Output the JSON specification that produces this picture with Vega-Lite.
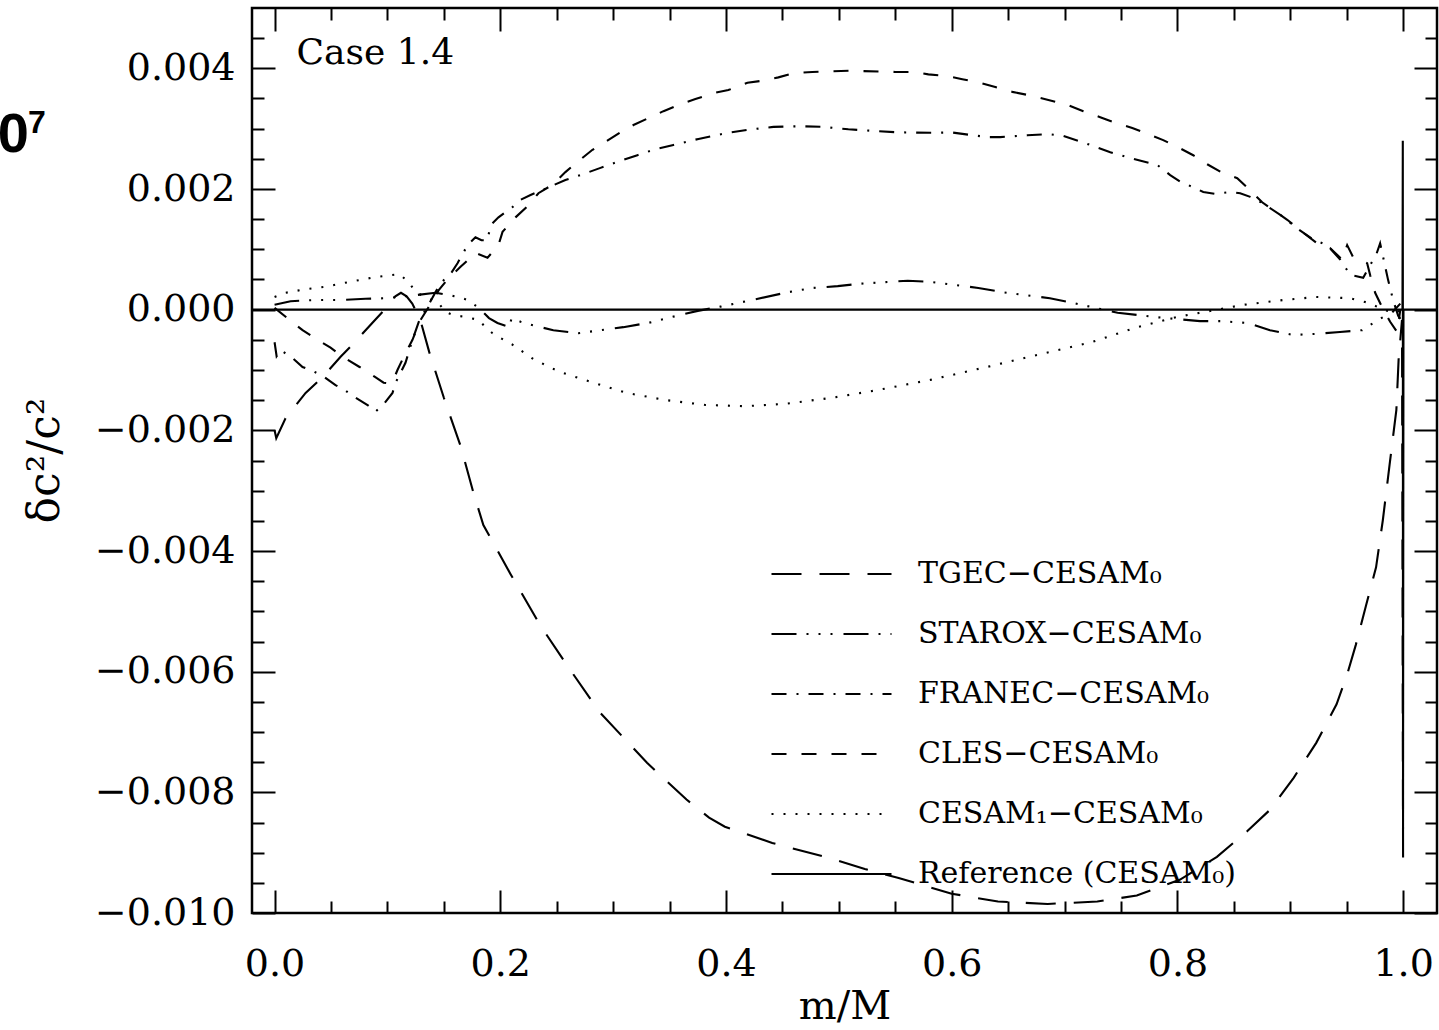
{
"$schema": "https://vega.github.io/schema/vega-lite/v6.json",
"width": 1185, "height": 905,
"autosize": {"type": "none"},
"padding": {"left": 252, "top": 8, "right": 2, "bottom": 117},
"background": "white",
"config": {
  "view": {"stroke": "black", "strokeWidth": 2.5},
  "font": "DejaVu Serif",
  "axis": {"grid": false, "domain": false, "tickColor": "black", "tickWidth": 2, "labelColor": "black", "titleColor": "black", "labelFont": "DejaVu Serif", "titleFont": "DejaVu Serif", "labelFontWeight": "normal", "titleFontWeight": "normal", "labelOverlap": false, "labelFlush": false}
},
"data": {"values": [
{"series":"TGEC−CESAM₀","m":0.0,"v":-0.00200},
{"series":"TGEC−CESAM₀","m":0.0015,"v":-0.00213},
{"series":"TGEC−CESAM₀","m":0.0097,"v":-0.00180},
{"series":"TGEC−CESAM₀","m":0.0275,"v":-0.00138},
{"series":"TGEC−CESAM₀","m":0.0425,"v":-0.00112},
{"series":"TGEC−CESAM₀","m":0.0585,"v":-0.00078},
{"series":"TGEC−CESAM₀","m":0.0690,"v":-0.00058},
{"series":"TGEC−CESAM₀","m":0.0890,"v":-0.00017},
{"series":"TGEC−CESAM₀","m":0.1000,"v":0.00005},
{"series":"TGEC−CESAM₀","m":0.1070,"v":0.00022},
{"series":"TGEC−CESAM₀","m":0.1120,"v":0.00028},
{"series":"TGEC−CESAM₀","m":0.1170,"v":0.00022},
{"series":"TGEC−CESAM₀","m":0.1220,"v":0.00010},
{"series":"TGEC−CESAM₀","m":0.1290,"v":-0.00016},
{"series":"TGEC−CESAM₀","m":0.1370,"v":-0.00070},
{"series":"TGEC−CESAM₀","m":0.1500,"v":-0.00146},
{"series":"TGEC−CESAM₀","m":0.1650,"v":-0.00227},
{"series":"TGEC−CESAM₀","m":0.1760,"v":-0.00302},
{"series":"TGEC−CESAM₀","m":0.1850,"v":-0.00357},
{"series":"TGEC−CESAM₀","m":0.2090,"v":-0.00438},
{"series":"TGEC−CESAM₀","m":0.2350,"v":-0.00522},
{"series":"TGEC−CESAM₀","m":0.2590,"v":-0.00589},
{"series":"TGEC−CESAM₀","m":0.2880,"v":-0.00667},
{"series":"TGEC−CESAM₀","m":0.3300,"v":-0.00751},
{"series":"TGEC−CESAM₀","m":0.3650,"v":-0.00812},
{"series":"TGEC−CESAM₀","m":0.3850,"v":-0.00842},
{"series":"TGEC−CESAM₀","m":0.3990,"v":-0.00857},
{"series":"TGEC−CESAM₀","m":0.4410,"v":-0.00884},
{"series":"TGEC−CESAM₀","m":0.4880,"v":-0.00907},
{"series":"TGEC−CESAM₀","m":0.5230,"v":-0.00927},
{"series":"TGEC−CESAM₀","m":0.5530,"v":-0.00942},
{"series":"TGEC−CESAM₀","m":0.6000,"v":-0.00968},
{"series":"TGEC−CESAM₀","m":0.6410,"v":-0.00981},
{"series":"TGEC−CESAM₀","m":0.6850,"v":-0.00985},
{"series":"TGEC−CESAM₀","m":0.7290,"v":-0.00981},
{"series":"TGEC−CESAM₀","m":0.7640,"v":-0.00971},
{"series":"TGEC−CESAM₀","m":0.8020,"v":-0.00945},
{"series":"TGEC−CESAM₀","m":0.8350,"v":-0.00907},
{"series":"TGEC−CESAM₀","m":0.8620,"v":-0.00864},
{"series":"TGEC−CESAM₀","m":0.8820,"v":-0.00829},
{"series":"TGEC−CESAM₀","m":0.9030,"v":-0.00776},
{"series":"TGEC−CESAM₀","m":0.9230,"v":-0.00718},
{"series":"TGEC−CESAM₀","m":0.9410,"v":-0.00654},
{"series":"TGEC−CESAM₀","m":0.9500,"v":-0.00607},
{"series":"TGEC−CESAM₀","m":0.9580,"v":-0.00556},
{"series":"TGEC−CESAM₀","m":0.9670,"v":-0.00491},
{"series":"TGEC−CESAM₀","m":0.9760,"v":-0.00427},
{"series":"TGEC−CESAM₀","m":0.9820,"v":-0.00349},
{"series":"TGEC−CESAM₀","m":0.9880,"v":-0.00257},
{"series":"TGEC−CESAM₀","m":0.9940,"v":-0.00166},
{"series":"TGEC−CESAM₀","m":0.9960,"v":-0.00082},
{"series":"TGEC−CESAM₀","m":0.9990,"v":-0.00017},
{"series":"TGEC−CESAM₀","m":0.99995,"v":-0.00912},

{"series":"STAROX−CESAM₀","m":0.0,"v":0.00008},
{"series":"STAROX−CESAM₀","m":0.0142,"v":0.00014},
{"series":"STAROX−CESAM₀","m":0.0363,"v":0.00016},
{"series":"STAROX−CESAM₀","m":0.0585,"v":0.00016},
{"series":"STAROX−CESAM₀","m":0.0806,"v":0.00018},
{"series":"STAROX−CESAM₀","m":0.0983,"v":0.00019},
{"series":"STAROX−CESAM₀","m":0.1200,"v":0.00023},
{"series":"STAROX−CESAM₀","m":0.1426,"v":0.00028},
{"series":"STAROX−CESAM₀","m":0.1630,"v":0.00021},
{"series":"STAROX−CESAM₀","m":0.1710,"v":0.00016},
{"series":"STAROX−CESAM₀","m":0.1810,"v":0.00003},
{"series":"STAROX−CESAM₀","m":0.1900,"v":-0.00014},
{"series":"STAROX−CESAM₀","m":0.1975,"v":-0.00022},
{"series":"STAROX−CESAM₀","m":0.2080,"v":-0.00029},
{"series":"STAROX−CESAM₀","m":0.2100,"v":-0.00014},
{"series":"STAROX−CESAM₀","m":0.2180,"v":-0.00020},
{"series":"STAROX−CESAM₀","m":0.2268,"v":-0.00025},
{"series":"STAROX−CESAM₀","m":0.2380,"v":-0.00030},
{"series":"STAROX−CESAM₀","m":0.2470,"v":-0.00034},
{"series":"STAROX−CESAM₀","m":0.2690,"v":-0.00039},
{"series":"STAROX−CESAM₀","m":0.2890,"v":-0.00034},
{"series":"STAROX−CESAM₀","m":0.3090,"v":-0.00029},
{"series":"STAROX−CESAM₀","m":0.3310,"v":-0.00022},
{"series":"STAROX−CESAM₀","m":0.3525,"v":-0.00012},
{"series":"STAROX−CESAM₀","m":0.3750,"v":-0.00002},
{"series":"STAROX−CESAM₀","m":0.3950,"v":0.00005},
{"series":"STAROX−CESAM₀","m":0.4230,"v":0.00016},
{"series":"STAROX−CESAM₀","m":0.4550,"v":0.00029},
{"series":"STAROX−CESAM₀","m":0.4770,"v":0.00036},
{"series":"STAROX−CESAM₀","m":0.4990,"v":0.00039},
{"series":"STAROX−CESAM₀","m":0.5190,"v":0.00043},
{"series":"STAROX−CESAM₀","m":0.5610,"v":0.00048},
{"series":"STAROX−CESAM₀","m":0.5810,"v":0.00046},
{"series":"STAROX−CESAM₀","m":0.6236,"v":0.00036},
{"series":"STAROX−CESAM₀","m":0.6450,"v":0.00029},
{"series":"STAROX−CESAM₀","m":0.6870,"v":0.00019},
{"series":"STAROX−CESAM₀","m":0.7080,"v":0.00011},
{"series":"STAROX−CESAM₀","m":0.7320,"v":0.00001},
{"series":"STAROX−CESAM₀","m":0.7470,"v":-0.00005},
{"series":"STAROX−CESAM₀","m":0.7790,"v":-0.00012},
{"series":"STAROX−CESAM₀","m":0.8200,"v":-0.00019},
{"series":"STAROX−CESAM₀","m":0.8380,"v":-0.00019},
{"series":"STAROX−CESAM₀","m":0.8620,"v":-0.00022},
{"series":"STAROX−CESAM₀","m":0.8820,"v":-0.00034},
{"series":"STAROX−CESAM₀","m":0.9026,"v":-0.00042},
{"series":"STAROX−CESAM₀","m":0.9240,"v":-0.00040},
{"series":"STAROX−CESAM₀","m":0.9440,"v":-0.00037},
{"series":"STAROX−CESAM₀","m":0.9637,"v":-0.00034},
{"series":"STAROX−CESAM₀","m":0.9710,"v":-0.00025},
{"series":"STAROX−CESAM₀","m":0.9796,"v":-0.00015},
{"series":"STAROX−CESAM₀","m":0.9900,"v":-0.00005},
{"series":"STAROX−CESAM₀","m":0.9975,"v":0.00010},

{"series":"FRANEC−CESAM₀","m":0.0,"v":-0.00054},
{"series":"FRANEC−CESAM₀","m":0.0018,"v":-0.00077},
{"series":"FRANEC−CESAM₀","m":0.0053,"v":-0.00067},
{"series":"FRANEC−CESAM₀","m":0.0159,"v":-0.00080},
{"series":"FRANEC−CESAM₀","m":0.0248,"v":-0.00095},
{"series":"FRANEC−CESAM₀","m":0.0354,"v":-0.00103},
{"series":"FRANEC−CESAM₀","m":0.0443,"v":-0.00112},
{"series":"FRANEC−CESAM₀","m":0.0540,"v":-0.00125},
{"series":"FRANEC−CESAM₀","m":0.0620,"v":-0.00133},
{"series":"FRANEC−CESAM₀","m":0.0709,"v":-0.00145},
{"series":"FRANEC−CESAM₀","m":0.0824,"v":-0.00158},
{"series":"FRANEC−CESAM₀","m":0.0895,"v":-0.00169},
{"series":"FRANEC−CESAM₀","m":0.0974,"v":-0.00155},
{"series":"FRANEC−CESAM₀","m":0.1045,"v":-0.00138},
{"series":"FRANEC−CESAM₀","m":0.1072,"v":-0.00121},
{"series":"FRANEC−CESAM₀","m":0.1160,"v":-0.00088},
{"series":"FRANEC−CESAM₀","m":0.1222,"v":-0.00050},
{"series":"FRANEC−CESAM₀","m":0.1284,"v":-0.00017},
{"series":"FRANEC−CESAM₀","m":0.1364,"v":0.00008},
{"series":"FRANEC−CESAM₀","m":0.1470,"v":0.00044},
{"series":"FRANEC−CESAM₀","m":0.1559,"v":0.00059},
{"series":"FRANEC−CESAM₀","m":0.1621,"v":0.00077},
{"series":"FRANEC−CESAM₀","m":0.1710,"v":0.00107},
{"series":"FRANEC−CESAM₀","m":0.1780,"v":0.00120},
{"series":"FRANEC−CESAM₀","m":0.1833,"v":0.00115},
{"series":"FRANEC−CESAM₀","m":0.1887,"v":0.00115},
{"series":"FRANEC−CESAM₀","m":0.1913,"v":0.00140},
{"series":"FRANEC−CESAM₀","m":0.1984,"v":0.00153},
{"series":"FRANEC−CESAM₀","m":0.2108,"v":0.00170},
{"series":"FRANEC−CESAM₀","m":0.2179,"v":0.00182},
{"series":"FRANEC−CESAM₀","m":0.2268,"v":0.00190},
{"series":"FRANEC−CESAM₀","m":0.2418,"v":0.00202},
{"series":"FRANEC−CESAM₀","m":0.2577,"v":0.00215},
{"series":"FRANEC−CESAM₀","m":0.2710,"v":0.00223},
{"series":"FRANEC−CESAM₀","m":0.2888,"v":0.00235},
{"series":"FRANEC−CESAM₀","m":0.3038,"v":0.00245},
{"series":"FRANEC−CESAM₀","m":0.3215,"v":0.00256},
{"series":"FRANEC−CESAM₀","m":0.3357,"v":0.00265},
{"series":"FRANEC−CESAM₀","m":0.3534,"v":0.00273},
{"series":"FRANEC−CESAM₀","m":0.3756,"v":0.00283},
{"series":"FRANEC−CESAM₀","m":0.4012,"v":0.00293},
{"series":"FRANEC−CESAM₀","m":0.4190,"v":0.00298},
{"series":"FRANEC−CESAM₀","m":0.4420,"v":0.00303},
{"series":"FRANEC−CESAM₀","m":0.4659,"v":0.00304},
{"series":"FRANEC−CESAM₀","m":0.4854,"v":0.00303},
{"series":"FRANEC−CESAM₀","m":0.5084,"v":0.00299},
{"series":"FRANEC−CESAM₀","m":0.5323,"v":0.00296},
{"series":"FRANEC−CESAM₀","m":0.5518,"v":0.00294},
{"series":"FRANEC−CESAM₀","m":0.5855,"v":0.00293},
{"series":"FRANEC−CESAM₀","m":0.5988,"v":0.00294},
{"series":"FRANEC−CESAM₀","m":0.6191,"v":0.00289},
{"series":"FRANEC−CESAM₀","m":0.6324,"v":0.00286},
{"series":"FRANEC−CESAM₀","m":0.6430,"v":0.00286},
{"series":"FRANEC−CESAM₀","m":0.6670,"v":0.00289},
{"series":"FRANEC−CESAM₀","m":0.6856,"v":0.00291},
{"series":"FRANEC−CESAM₀","m":0.6988,"v":0.00288},
{"series":"FRANEC−CESAM₀","m":0.7183,"v":0.00276},
{"series":"FRANEC−CESAM₀","m":0.7405,"v":0.00261},
{"series":"FRANEC−CESAM₀","m":0.7609,"v":0.00250},
{"series":"FRANEC−CESAM₀","m":0.7821,"v":0.00240},
{"series":"FRANEC−CESAM₀","m":0.7936,"v":0.00223},
{"series":"FRANEC−CESAM₀","m":0.8025,"v":0.00212},
{"series":"FRANEC−CESAM₀","m":0.8140,"v":0.00203},
{"series":"FRANEC−CESAM₀","m":0.8229,"v":0.00195},
{"series":"FRANEC−CESAM₀","m":0.8335,"v":0.00192},
{"series":"FRANEC−CESAM₀","m":0.8468,"v":0.00195},
{"series":"FRANEC−CESAM₀","m":0.8556,"v":0.00193},
{"series":"FRANEC−CESAM₀","m":0.8645,"v":0.00187},
{"series":"FRANEC−CESAM₀","m":0.8751,"v":0.00177},
{"series":"FRANEC−CESAM₀","m":0.8937,"v":0.00154},
{"series":"FRANEC−CESAM₀","m":0.9043,"v":0.00137},
{"series":"FRANEC−CESAM₀","m":0.9203,"v":0.00116},
{"series":"FRANEC−CESAM₀","m":0.9327,"v":0.00107},
{"series":"FRANEC−CESAM₀","m":0.9442,"v":0.00083},
{"series":"FRANEC−CESAM₀","m":0.9530,"v":0.00058},
{"series":"FRANEC−CESAM₀","m":0.9646,"v":0.00053},
{"series":"FRANEC−CESAM₀","m":0.9708,"v":0.00074},
{"series":"FRANEC−CESAM₀","m":0.9761,"v":0.00091},
{"series":"FRANEC−CESAM₀","m":0.9796,"v":0.00110},
{"series":"FRANEC−CESAM₀","m":0.9823,"v":0.00087},
{"series":"FRANEC−CESAM₀","m":0.9867,"v":0.00049},
{"series":"FRANEC−CESAM₀","m":0.9911,"v":0.00016},
{"series":"FRANEC−CESAM₀","m":0.9956,"v":-0.00010},
{"series":"FRANEC−CESAM₀","m":0.9982,"v":-0.00017},

{"series":"CLES−CESAM₀","m":0.0,"v":0.00003},
{"series":"CLES−CESAM₀","m":0.0133,"v":-0.00017},
{"series":"CLES−CESAM₀","m":0.0248,"v":-0.00034},
{"series":"CLES−CESAM₀","m":0.0381,"v":-0.00050},
{"series":"CLES−CESAM₀","m":0.0496,"v":-0.00063},
{"series":"CLES−CESAM₀","m":0.0602,"v":-0.00078},
{"series":"CLES−CESAM₀","m":0.0753,"v":-0.00095},
{"series":"CLES−CESAM₀","m":0.0886,"v":-0.00111},
{"series":"CLES−CESAM₀","m":0.0966,"v":-0.00121},
{"series":"CLES−CESAM₀","m":0.1010,"v":-0.00122},
{"series":"CLES−CESAM₀","m":0.1045,"v":-0.00120},
{"series":"CLES−CESAM₀","m":0.1089,"v":-0.00100},
{"series":"CLES−CESAM₀","m":0.1160,"v":-0.00072},
{"series":"CLES−CESAM₀","m":0.1222,"v":-0.00050},
{"series":"CLES−CESAM₀","m":0.1284,"v":-0.00020},
{"series":"CLES−CESAM₀","m":0.1364,"v":0.00004},
{"series":"CLES−CESAM₀","m":0.1453,"v":0.00032},
{"series":"CLES−CESAM₀","m":0.1541,"v":0.00052},
{"series":"CLES−CESAM₀","m":0.1648,"v":0.00071},
{"series":"CLES−CESAM₀","m":0.1780,"v":0.00094},
{"series":"CLES−CESAM₀","m":0.1887,"v":0.00086},
{"series":"CLES−CESAM₀","m":0.1984,"v":0.00107},
{"series":"CLES−CESAM₀","m":0.2020,"v":0.00129},
{"series":"CLES−CESAM₀","m":0.2135,"v":0.00153},
{"series":"CLES−CESAM₀","m":0.2250,"v":0.00173},
{"series":"CLES−CESAM₀","m":0.2338,"v":0.00193},
{"series":"CLES−CESAM₀","m":0.2462,"v":0.00207},
{"series":"CLES−CESAM₀","m":0.2577,"v":0.00228},
{"series":"CLES−CESAM₀","m":0.2684,"v":0.00245},
{"series":"CLES−CESAM₀","m":0.2817,"v":0.00265},
{"series":"CLES−CESAM₀","m":0.2932,"v":0.00278},
{"series":"CLES−CESAM₀","m":0.3065,"v":0.00294},
{"series":"CLES−CESAM₀","m":0.3180,"v":0.00306},
{"series":"CLES−CESAM₀","m":0.3330,"v":0.00319},
{"series":"CLES−CESAM₀","m":0.3446,"v":0.00329},
{"series":"CLES−CESAM₀","m":0.3614,"v":0.00342},
{"series":"CLES−CESAM₀","m":0.3729,"v":0.00349},
{"series":"CLES−CESAM₀","m":0.3888,"v":0.00359},
{"series":"CLES−CESAM₀","m":0.4021,"v":0.00364},
{"series":"CLES−CESAM₀","m":0.4190,"v":0.00376},
{"series":"CLES−CESAM₀","m":0.4305,"v":0.00379},
{"series":"CLES−CESAM₀","m":0.4464,"v":0.00385},
{"series":"CLES−CESAM₀","m":0.4597,"v":0.00392},
{"series":"CLES−CESAM₀","m":0.4765,"v":0.00394},
{"series":"CLES−CESAM₀","m":0.5102,"v":0.00396},
{"series":"CLES−CESAM₀","m":0.5500,"v":0.00394},
{"series":"CLES−CESAM₀","m":0.5660,"v":0.00394},
{"series":"CLES−CESAM₀","m":0.5793,"v":0.00390},
{"series":"CLES−CESAM₀","m":0.5961,"v":0.00387},
{"series":"CLES−CESAM₀","m":0.6094,"v":0.00382},
{"series":"CLES−CESAM₀","m":0.6253,"v":0.00376},
{"series":"CLES−CESAM₀","m":0.6386,"v":0.00369},
{"series":"CLES−CESAM₀","m":0.6537,"v":0.00361},
{"series":"CLES−CESAM₀","m":0.6670,"v":0.00356},
{"series":"CLES−CESAM₀","m":0.6891,"v":0.00346},
{"series":"CLES−CESAM₀","m":0.7033,"v":0.00339},
{"series":"CLES−CESAM₀","m":0.7166,"v":0.00329},
{"series":"CLES−CESAM₀","m":0.7316,"v":0.00319},
{"series":"CLES−CESAM₀","m":0.7431,"v":0.00311},
{"series":"CLES−CESAM₀","m":0.7600,"v":0.00301},
{"series":"CLES−CESAM₀","m":0.7715,"v":0.00293},
{"series":"CLES−CESAM₀","m":0.7874,"v":0.00281},
{"series":"CLES−CESAM₀","m":0.7998,"v":0.00270},
{"series":"CLES−CESAM₀","m":0.8140,"v":0.00256},
{"series":"CLES−CESAM₀","m":0.8264,"v":0.00241},
{"series":"CLES−CESAM₀","m":0.8397,"v":0.00227},
{"series":"CLES−CESAM₀","m":0.8530,"v":0.00218},
{"series":"CLES−CESAM₀","m":0.8645,"v":0.00198},
{"series":"CLES−CESAM₀","m":0.8751,"v":0.00178},
{"series":"CLES−CESAM₀","m":0.8849,"v":0.00165},
{"series":"CLES−CESAM₀","m":0.8973,"v":0.00149},
{"series":"CLES−CESAM₀","m":0.9105,"v":0.00129},
{"series":"CLES−CESAM₀","m":0.9238,"v":0.00110},
{"series":"CLES−CESAM₀","m":0.9353,"v":0.00102},
{"series":"CLES−CESAM₀","m":0.9460,"v":0.00083},
{"series":"CLES−CESAM₀","m":0.9504,"v":0.00107},
{"series":"CLES−CESAM₀","m":0.9557,"v":0.00087},
{"series":"CLES−CESAM₀","m":0.9681,"v":0.00077},
{"series":"CLES−CESAM₀","m":0.9708,"v":0.00057},
{"series":"CLES−CESAM₀","m":0.9752,"v":0.00028},
{"series":"CLES−CESAM₀","m":0.9814,"v":0.00004},
{"series":"CLES−CESAM₀","m":0.9885,"v":-0.00020},
{"series":"CLES−CESAM₀","m":0.9947,"v":-0.00037},
{"series":"CLES−CESAM₀","m":0.9975,"v":0.00000},

{"series":"CESAM₁−CESAM₀","m":0.0,"v":0.00021},
{"series":"CESAM₁−CESAM₀","m":0.0097,"v":0.00028},
{"series":"CESAM₁−CESAM₀","m":0.0275,"v":0.00034},
{"series":"CESAM₁−CESAM₀","m":0.0452,"v":0.00038},
{"series":"CESAM₁−CESAM₀","m":0.0664,"v":0.00046},
{"series":"CESAM₁−CESAM₀","m":0.0895,"v":0.00054},
{"series":"CESAM₁−CESAM₀","m":0.1107,"v":0.00059},
{"series":"CESAM₁−CESAM₀","m":0.1196,"v":0.00044},
{"series":"CESAM₁−CESAM₀","m":0.1249,"v":0.00029},
{"series":"CESAM₁−CESAM₀","m":0.1337,"v":0.00021},
{"series":"CESAM₁−CESAM₀","m":0.1453,"v":0.00011},
{"series":"CESAM₁−CESAM₀","m":0.1515,"v":-0.00004},
{"series":"CESAM₁−CESAM₀","m":0.1585,"v":-0.00009},
{"series":"CESAM₁−CESAM₀","m":0.1692,"v":-0.00012},
{"series":"CESAM₁−CESAM₀","m":0.1807,"v":-0.00017},
{"series":"CESAM₁−CESAM₀","m":0.1869,"v":-0.00029},
{"series":"CESAM₁−CESAM₀","m":0.1931,"v":-0.00039},
{"series":"CESAM₁−CESAM₀","m":0.2002,"v":-0.00047},
{"series":"CESAM₁−CESAM₀","m":0.2108,"v":-0.00058},
{"series":"CESAM₁−CESAM₀","m":0.2294,"v":-0.00082},
{"series":"CESAM₁−CESAM₀","m":0.2524,"v":-0.00103},
{"series":"CESAM₁−CESAM₀","m":0.2826,"v":-0.00121},
{"series":"CESAM₁−CESAM₀","m":0.3118,"v":-0.00138},
{"series":"CESAM₁−CESAM₀","m":0.3472,"v":-0.00150},
{"series":"CESAM₁−CESAM₀","m":0.3818,"v":-0.00158},
{"series":"CESAM₁−CESAM₀","m":0.4172,"v":-0.00160},
{"series":"CESAM₁−CESAM₀","m":0.4526,"v":-0.00156},
{"series":"CESAM₁−CESAM₀","m":0.4942,"v":-0.00146},
{"series":"CESAM₁−CESAM₀","m":0.5350,"v":-0.00133},
{"series":"CESAM₁−CESAM₀","m":0.5820,"v":-0.00116},
{"series":"CESAM₁−CESAM₀","m":0.6289,"v":-0.00096},
{"series":"CESAM₁−CESAM₀","m":0.6758,"v":-0.00075},
{"series":"CESAM₁−CESAM₀","m":0.7237,"v":-0.00054},
{"series":"CESAM₁−CESAM₀","m":0.7644,"v":-0.00029},
{"series":"CESAM₁−CESAM₀","m":0.7998,"v":-0.00012},
{"series":"CESAM₁−CESAM₀","m":0.8353,"v":0.00000},
{"series":"CESAM₁−CESAM₀","m":0.8583,"v":0.00008},
{"series":"CESAM₁−CESAM₀","m":0.8937,"v":0.00016},
{"series":"CESAM₁−CESAM₀","m":0.9230,"v":0.00021},
{"series":"CESAM₁−CESAM₀","m":0.9530,"v":0.00019},
{"series":"CESAM₁−CESAM₀","m":0.9700,"v":0.00011},
{"series":"CESAM₁−CESAM₀","m":0.9823,"v":0.00000},
{"series":"CESAM₁−CESAM₀","m":0.9930,"v":-0.00005},
{"series":"CESAM₁−CESAM₀","m":0.9990,"v":0.00000},

{"series":"Reference (CESAM₀)","m":-0.02,"v":0.0},
{"series":"Reference (CESAM₀)","m":0.9994,"v":0.0},
{"series":"Reference (CESAM₀)","m":0.9997,"v":0.0028},
{"series":"Reference (CESAM₀)","m":0.9999,"v":-0.0086},
{"series":"Reference (CESAM₀)","m":1.0003,"v":0.0},
{"series":"Reference (CESAM₀)","m":1.03,"v":0.0}
]},
"layer": [
  {
    "mark": {"type": "line", "color": "black", "clip": true},
    "encoding": {
      "x": {"field": "m", "type": "quantitative", "scale": {"domain": [-0.02, 1.03], "nice": false, "zero": false},
            "axis": {"orient": "bottom", "values": [0, 0.2, 0.4, 0.6, 0.8, 1.0], "format": ".1f", "tickSize": -23, "labelPadding": 85, "labelBaseline": "alphabetic", "labelFontSize": 38, "title": "m/M", "titleFontSize": 40, "titleY": 105, "titleBaseline": "alphabetic"}},
      "y": {"field": "v", "type": "quantitative", "scale": {"domain": [-0.01, 0.005], "nice": false, "zero": false},
            "axis": {"orient": "left", "values": [-0.01, -0.008, -0.006, -0.004, -0.002, 0, 0.002, 0.004], "format": ".3f", "tickSize": -23, "labelPadding": 40, "labelFontSize": 38, "title": "δc²/c²", "titleFontSize": 44, "titleX": -207, "titleY": 452, "titleAngle": -90, "titleAlign": "center", "titleBaseline": "middle"}},
      "strokeWidth": {"field": "series", "type": "nominal",
        "scale": {"domain": ["TGEC−CESAM₀", "STAROX−CESAM₀", "FRANEC−CESAM₀", "CLES−CESAM₀", "CESAM₁−CESAM₀", "Reference (CESAM₀)"],
                  "range": [2.1, 2.1, 2.1, 2.1, 2.2, 2.7]}, "legend": null},
      "strokeDash": {"field": "series", "type": "nominal",
        "scale": {"domain": ["TGEC−CESAM₀", "STAROX−CESAM₀", "FRANEC−CESAM₀", "CLES−CESAM₀", "CESAM₁−CESAM₀", "Reference (CESAM₀)"],
                  "range": [[30, 18], [25, 10, 2, 10, 2, 10, 2, 11], [15, 10, 2, 10], [15, 15], [2, 10], [1, 0]]},
        "legend": {"orient": "none", "legendX": 518, "legendY": 536, "title": null, "symbolType": "stroke", "symbolSize": 14400, "symbolStrokeWidth": 2, "symbolStrokeColor": "black", "labelFont": "DejaVu Serif", "labelFontSize": 30, "labelColor": "black", "labelOffset": 25, "clipHeight": 60, "rowPadding": 0, "labelLimit": 0}}
    }
  },
  {
    "mark": {"type": "point", "opacity": 0},
    "encoding": {
      "x": {"field": "m", "type": "quantitative", "scale": {"domain": [-0.02, 1.03], "nice": false, "zero": false},
            "axis": {"orient": "bottom", "values": [0.05, 0.1, 0.15, 0.25, 0.3, 0.35, 0.45, 0.5, 0.55, 0.65, 0.7, 0.75, 0.85, 0.9, 0.95], "tickSize": -12, "labels": false, "title": null}},
      "y": {"field": "v", "type": "quantitative", "scale": {"domain": [-0.01, 0.005], "nice": false, "zero": false},
            "axis": {"orient": "left", "values": [-0.0095, -0.009, -0.0085, -0.0075, -0.007, -0.0065, -0.0055, -0.005, -0.0045, -0.0035, -0.003, -0.0025, -0.0015, -0.001, -0.0005, 0.0005, 0.001, 0.0015, 0.0025, 0.003, 0.0035, 0.0045], "tickSize": -12, "labels": false, "title": null}}
    }
  },
  {
    "mark": {"type": "point", "opacity": 0},
    "encoding": {
      "x": {"field": "m", "type": "quantitative", "scale": {"domain": [-0.02, 1.03], "nice": false, "zero": false},
            "axis": {"orient": "top", "values": [0, 0.2, 0.4, 0.6, 0.8, 1.0], "tickSize": -23, "labels": false, "title": null}},
      "y": {"field": "v", "type": "quantitative", "scale": {"domain": [-0.01, 0.005], "nice": false, "zero": false},
            "axis": {"orient": "right", "values": [-0.01, -0.008, -0.006, -0.004, -0.002, 0, 0.002, 0.004], "tickSize": -23, "labels": false, "title": null}}
    }
  },
  {
    "mark": {"type": "point", "opacity": 0},
    "encoding": {
      "x": {"field": "m", "type": "quantitative", "scale": {"domain": [-0.02, 1.03], "nice": false, "zero": false},
            "axis": {"orient": "top", "values": [0.05, 0.1, 0.15, 0.25, 0.3, 0.35, 0.45, 0.5, 0.55, 0.65, 0.7, 0.75, 0.85, 0.9, 0.95], "tickSize": -12, "labels": false, "title": null}},
      "y": {"field": "v", "type": "quantitative", "scale": {"domain": [-0.01, 0.005], "nice": false, "zero": false},
            "axis": {"orient": "right", "values": [-0.0095, -0.009, -0.0085, -0.0075, -0.007, -0.0065, -0.0055, -0.005, -0.0045, -0.0035, -0.003, -0.0025, -0.0015, -0.001, -0.0005, 0.0005, 0.001, 0.0015, 0.0025, 0.003, 0.0035, 0.0045], "tickSize": -12, "labels": false, "title": null}}
    }
  },
  {
    "data": {"values": [{"label": "Case 1.4"}]},
    "mark": {"type": "text", "align": "left", "baseline": "alphabetic", "font": "DejaVu Serif", "fontSize": 36, "color": "black"},
    "encoding": {
      "x": {"datum": 0.0195, "type": "quantitative", "scale": {"domain": [-0.02, 1.03], "nice": false, "zero": false}, "axis": null},
      "y": {"datum": 0.00407, "type": "quantitative", "scale": {"domain": [-0.01, 0.005], "nice": false, "zero": false}, "axis": null},
      "text": {"field": "label", "type": "nominal"}
    }
  },
  {
    "data": {"values": [{"label": "10"}]},
    "mark": {"type": "text", "align": "right", "baseline": "alphabetic", "font": "Liberation Sans", "fontWeight": "bold", "fontSize": 56, "color": "black"},
    "encoding": {
      "x": {"datum": -0.2176, "type": "quantitative", "scale": {"domain": [-0.02, 1.03], "nice": false, "zero": false}, "axis": null},
      "y": {"datum": 0.002613, "type": "quantitative", "scale": {"domain": [-0.01, 0.005], "nice": false, "zero": false}, "axis": null},
      "text": {"field": "label", "type": "nominal"}
    }
  },
  {
    "data": {"values": [{"label": "7"}]},
    "mark": {"type": "text", "align": "left", "baseline": "alphabetic", "font": "Liberation Sans", "fontWeight": "bold", "fontSize": 32, "color": "black"},
    "encoding": {
      "x": {"datum": -0.2185, "type": "quantitative", "scale": {"domain": [-0.02, 1.03], "nice": false, "zero": false}, "axis": null},
      "y": {"datum": 0.002928, "type": "quantitative", "scale": {"domain": [-0.01, 0.005], "nice": false, "zero": false}, "axis": null},
      "text": {"field": "label", "type": "nominal"}
    }
  }
],
"resolve": {"axis": {"x": "independent", "y": "independent"}}
}
